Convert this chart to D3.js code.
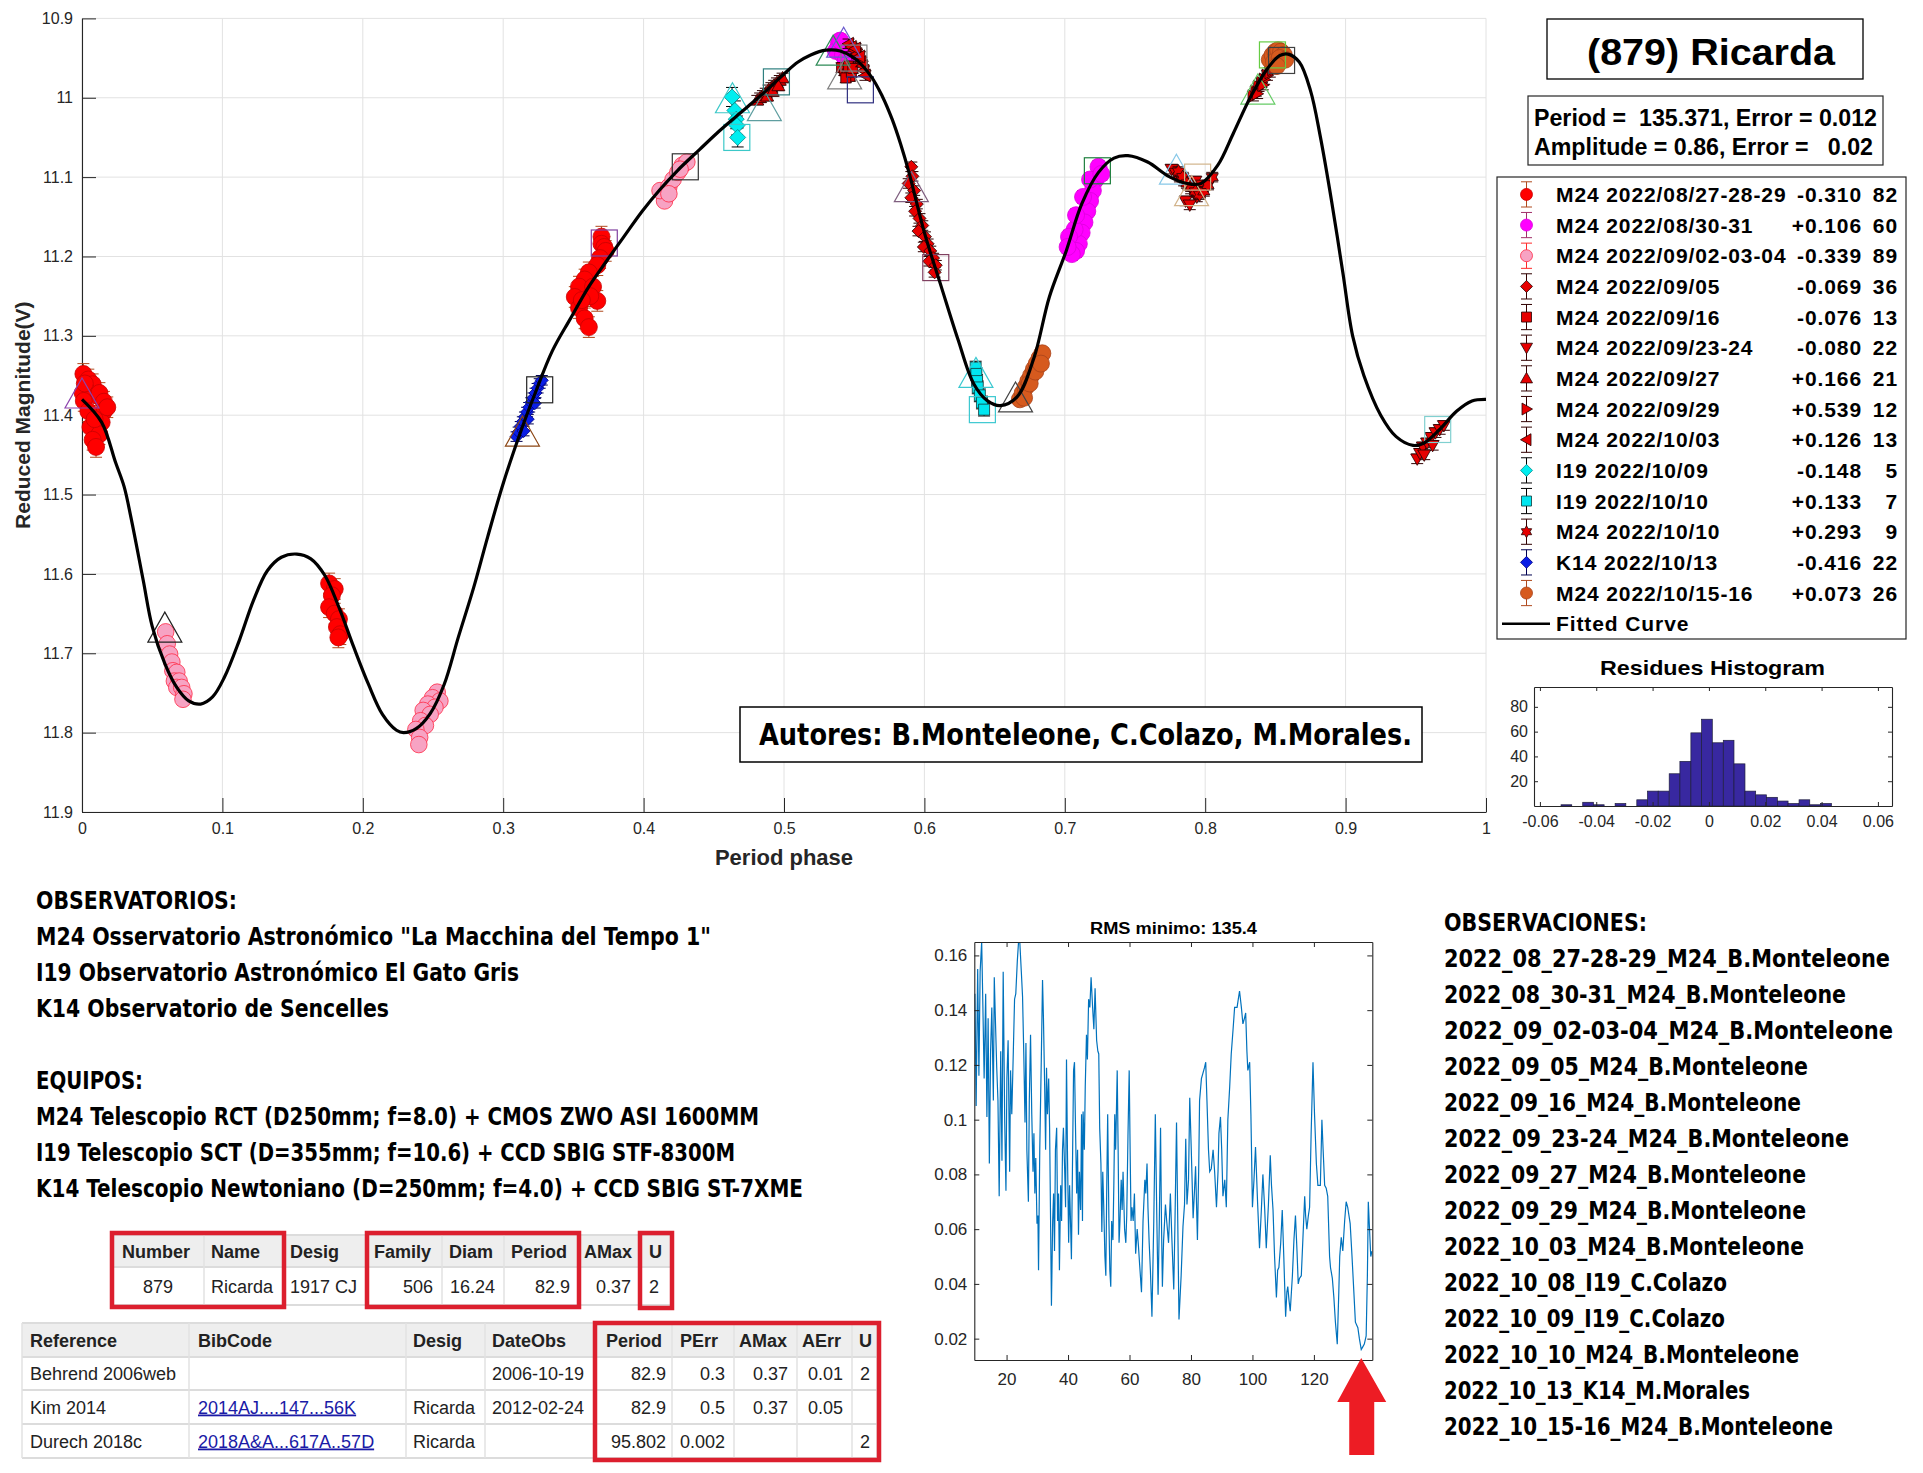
<!DOCTYPE html>
<html><head><meta charset="utf-8"><title>(879) Ricarda</title>
<script src="https://cdn.jsdelivr.net/npm/d3@7/dist/d3.min.js"></script>
<style>html,body{margin:0;padding:0;background:#fff;}svg{display:block;}text{white-space:pre;}</style>
</head><body>
<svg id="chart" width="1923" height="1473" xmlns="http://www.w3.org/2000/svg"></svg>
<script>
// ================= DATA =================
const xTicks=[0,0.1,0.2,0.3,0.4,0.5,0.6,0.7,0.8,0.9,1];
const xTickLabels=["0","0.1","0.2","0.3","0.4","0.5","0.6","0.7","0.8","0.9","1"];
const yTicks=[10.9,11,11.1,11.2,11.3,11.4,11.5,11.6,11.7,11.8,11.9];
const yTickLabels=["10.9","11","11.1","11.2","11.3","11.4","11.5","11.6","11.7","11.8","11.9"];

// fitted curve [phase, reduced magnitude]
const fittedCurve=[[0,11.38],[0.014,11.409],[0.024,11.46],[0.03,11.49],[0.035,11.53],[0.0436,11.608],[0.05,11.666],[0.059,11.713],[0.0675,11.743],[0.076,11.76],[0.0845,11.764],[0.093,11.755],[0.1015,11.73],[0.112,11.684],[0.122,11.634],[0.132,11.596],[0.142,11.579],[0.153,11.575],[0.163,11.581],[0.173,11.602],[0.183,11.642],[0.1935,11.692],[0.204,11.739],[0.214,11.777],[0.224,11.797],[0.229,11.8],[0.238,11.795],[0.248,11.776],[0.258,11.739],[0.268,11.68],[0.279,11.617],[0.289,11.553],[0.3,11.486],[0.313,11.418],[0.3226,11.373],[0.335,11.319],[0.348,11.278],[0.361,11.238],[0.3735,11.206],[0.386,11.175],[0.399,11.143],[0.412,11.115],[0.424,11.092],[0.44,11.065],[0.452,11.045],[0.465,11.025],[0.477,11.007],[0.488,10.99],[0.5,10.97],[0.51,10.955],[0.519,10.946],[0.53,10.94],[0.54,10.941],[0.55,10.95],[0.562,10.973],[0.57,10.998],[0.577,11.027],[0.583,11.058],[0.589,11.094],[0.6,11.17],[0.612,11.238],[0.624,11.305],[0.635,11.36],[0.645,11.382],[0.654,11.388],[0.666,11.377],[0.678,11.328],[0.689,11.251],[0.701,11.193],[0.712,11.134],[0.724,11.094],[0.735,11.076],[0.745,11.073],[0.759,11.081],[0.774,11.099],[0.787,11.108],[0.797,11.108],[0.809,11.085],[0.82,11.045],[0.832,11.0],[0.844,10.964],[0.853,10.947],[0.859,10.945],[0.867,10.955],[0.875,10.991],[0.882,11.049],[0.89,11.13],[0.898,11.22],[0.905,11.3],[0.913,11.35],[0.925,11.4],[0.936,11.427],[0.948,11.438],[0.956,11.435],[0.967,11.418],[0.979,11.395],[0.99,11.382],[1,11.38]];

// observation series [phase, magnitude]
const s01=[[0.001,11.348],[0.0045,11.355],[0.0076,11.361],[0.003,11.368],[0.010,11.375],[0.0124,11.372],[0.0005,11.372],[0.0013,11.382],[0.0156,11.383],[0.0156,11.395],[0.0045,11.395],[0.014,11.409],[0.006,11.415],[0.0124,11.424],[0.0076,11.431],[0.010,11.44],[0.018,11.39],[0.002,11.36],[0.009,11.405],[0.176,11.612],[0.18,11.619],[0.178,11.627],[0.176,11.642],[0.18,11.65],[0.183,11.657],[0.1816,11.667],[0.184,11.676],[0.1826,11.68],[0.370,11.175],[0.370,11.184],[0.372,11.188],[0.373,11.193],[0.369,11.202],[0.367,11.211],[0.361,11.22],[0.358,11.229],[0.354,11.238],[0.364,11.238],[0.351,11.251],[0.367,11.256],[0.354,11.265],[0.358,11.278],[0.361,11.289],[0.362,11.25],[0.356,11.255]];
const s02=[[0.539,10.932],[0.537,10.941],[0.542,10.946],[0.540,10.928],[0.544,10.953],[0.724,11.087],[0.722,11.103],[0.720,11.117],[0.718,11.13],[0.716,11.143],[0.714,11.157],[0.712,11.17],[0.710,11.184],[0.708,11.193],[0.705,11.197],[0.707,11.166],[0.703,11.175],[0.718,11.103],[0.708,11.148],[0.726,11.096],[0.713,11.125],[0.702,11.188]];
const s03=[[0.0596,11.673],[0.0607,11.688],[0.0624,11.701],[0.064,11.711],[0.0647,11.722],[0.0675,11.724],[0.0658,11.735],[0.0692,11.735],[0.0675,11.743],[0.071,11.743],[0.0726,11.751],[0.0719,11.758],[0.253,11.749],[0.2497,11.756],[0.2549,11.76],[0.2463,11.764],[0.2514,11.768],[0.243,11.772],[0.248,11.777],[0.2412,11.785],[0.2446,11.791],[0.2378,11.796],[0.2405,11.806],[0.2399,11.815],[0.4149,11.13],[0.4117,11.117],[0.418,11.112],[0.421,11.103],[0.4244,11.094],[0.4276,11.085],[0.4308,11.081],[0.418,11.121],[0.426,11.09]];
const s04=[[0.5907,11.087],[0.5915,11.099],[0.5888,11.108],[0.5927,11.117],[0.5907,11.126],[0.5946,11.134],[0.5934,11.143],[0.5965,11.152],[0.5985,11.161],[0.5958,11.168],[0.6004,11.175],[0.6023,11.184],[0.5996,11.188],[0.6042,11.193],[0.6062,11.202],[0.6035,11.206],[0.6081,11.211],[0.6073,11.22]];
const s05=[[0.541,10.962],[0.543,10.966],[0.545,10.97],[0.547,10.973],[0.544,10.975],[0.548,10.968],[0.546,10.96],[0.549,10.963]];
const s06=[[0.776,11.09],[0.779,11.095],[0.782,11.1],[0.785,11.105],[0.788,11.11],[0.79,11.115],[0.792,11.12],[0.794,11.125],[0.786,11.13],[0.789,11.135],[0.793,11.105],[0.796,11.11],[0.951,11.455],[0.953,11.448],[0.955,11.44],[0.958,11.435],[0.961,11.428],[0.964,11.422],[0.967,11.418],[0.97,11.413],[0.956,11.45],[0.962,11.438]];
const s07=[[0.481,11.003],[0.483,11.0],[0.485,10.997],[0.487,10.994],[0.489,10.99],[0.491,10.987],[0.493,10.984],[0.495,10.981],[0.497,10.978],[0.499,10.975],[0.488,10.998],[0.492,10.992],[0.496,10.985]];
const s08=[[0.834,10.998],[0.836,10.992],[0.838,10.986],[0.84,10.981],[0.842,10.977],[0.844,10.972],[0.846,10.968],[0.848,10.964],[0.837,10.995],[0.841,10.984]];
const s09=[[0.546,10.932],[0.548,10.936],[0.55,10.94],[0.552,10.945],[0.553,10.95],[0.555,10.955],[0.556,10.96],[0.557,10.966],[0.558,10.972],[0.551,10.938],[0.554,10.948]];
const s10=[[0.463,10.999],[0.465,11.016],[0.466,11.027],[0.4665,11.035],[0.467,11.05]];
const s11=[[0.6365,11.34],[0.637,11.348],[0.6375,11.357],[0.638,11.365],[0.6395,11.375],[0.641,11.384],[0.6425,11.393]];
const s12=[[0.781,11.093],[0.784,11.1],[0.787,11.108],[0.79,11.112],[0.793,11.118],[0.796,11.122],[0.799,11.118],[0.802,11.11],[0.805,11.1]];
const s13=[[0.3095,11.427],[0.311,11.421],[0.3125,11.414],[0.314,11.408],[0.3155,11.402],[0.317,11.396],[0.3185,11.39],[0.32,11.384],[0.3215,11.378],[0.323,11.372],[0.3245,11.366],[0.326,11.36],[0.3275,11.356],[0.3145,11.42],[0.3175,11.405],[0.3225,11.385]];
const s14=[[0.668,11.38],[0.67,11.372],[0.672,11.365],[0.674,11.357],[0.676,11.35],[0.678,11.342],[0.68,11.335],[0.682,11.328],[0.684,11.322],[0.671,11.378],[0.675,11.36],[0.679,11.345],[0.683,11.335],[0.846,10.952],[0.848,10.946],[0.85,10.942],[0.852,10.94],[0.854,10.942],[0.856,10.946],[0.849,10.955],[0.853,10.95],[0.857,10.952],[0.851,10.96]];
const seriesPoints=[s01,s02,s03,s04,s05,s06,s07,s08,s09,s10,s11,s12,s13,s14];
const seriesErr=[0.013,0.008,0.006,0.006,0.006,0.006,0.006,0.006,0.006,0.012,0.008,0.006,0.006,0.006];
const seriesNames=["M24 2022/08/27-28-29","M24 2022/08/30-31","M24 2022/09/02-03-04","M24 2022/09/05","M24 2022/09/16","M24 2022/09/23-24","M24 2022/09/27","M24 2022/09/29","M24 2022/10/03","I19 2022/10/09","I19 2022/10/10","M24 2022/10/10","K14 2022/10/13","M24 2022/10/15-16"];
const seriesOffsets=["-0.310","+0.106","-0.339","-0.069","-0.076","-0.080","+0.166","+0.539","+0.126","-0.148","+0.133","+0.293","-0.416","+0.073"];
const seriesCounts=[82,60,89,36,13,22,21,12,13,5,7,9,22,26];

// session start (triangles) and end (squares) markers [phase, magnitude]
const sessionStarts=[[0.0,11.372],[0.059,11.667],[0.3137,11.42],[0.4633,11.0],[0.486,11.01],[0.535,10.94],[0.5425,10.93],[0.5432,10.97],[0.5907,11.112],[0.6367,11.346],[0.6649,11.377],[0.7795,11.09],[0.7903,11.117],[0.8375,10.989]];
const sessionEnds=[[0.326,11.368],[0.372,11.183],[0.4297,11.087],[0.4664,11.05],[0.4946,10.98],[0.5498,10.95],[0.5544,10.99],[0.6081,11.214],[0.6413,11.393],[0.7232,11.092],[0.7946,11.10],[0.8479,10.946],[0.8544,10.953],[0.9656,11.418]];

// residues histogram
const histEdges=[-0.0525,-0.0487,-0.0448,-0.041,-0.0372,-0.0333,-0.0295,-0.0256,-0.0218,-0.018,-0.0141,-0.0103,-0.0064,-0.0026,0.0012,0.0051,0.0089,0.0128,0.0166,0.0204,0.0243,0.0281,0.032,0.0358,0.0396,0.0435];
const histCounts=[1,0,3,1,0,2,0,5,12,12,26,36,59,70,51,53,34,12,9,7,4,2,5,1,2];
const histXTicks=[-0.06,-0.04,-0.02,0,0.02,0.04,0.06];
const histXLabels=["-0.06","-0.04","-0.02","0","0.02","0.04","0.06"];
const histYTicks=[20,40,60,80];

// RMS periodogram
const rmsPeriod=[9.7,10.1,10.6,11.0,11.4,11.9,12.3,12.7,13.2,13.6,14.0,14.4,14.8,15.2,15.7,16.0,16.4,16.8,17.2,17.6,18.1,18.5,18.9,19.4,19.8,20.1,20.5,21.0,21.3,21.7,22.2,22.6,23.0,23.5,23.9,24.3,24.8,25.2,25.6,26.0,26.3,26.6,27.1,27.4,27.8,28.2,28.6,28.9,29.2,29.5,29.9,30.2,30.4,30.8,31.3,31.7,32.0,32.4,32.7,33.0,33.3,33.7,34.0,34.3,34.6,35.0,35.3,35.6,35.9,36.3,36.6,36.9,37.2,37.6,37.9,38.2,38.5,38.9,39.2,39.5,39.8,40.2,40.5,40.8,41.1,41.5,41.8,42.1,42.4,42.8,43.1,43.4,43.7,44.1,44.4,44.7,44.9,45.3,45.6,46.0,46.3,46.7,47.1,47.5,48.0,48.4,48.8,49.3,49.7,50.0,50.3,50.7,51.0,51.3,51.6,52.0,52.3,52.6,52.9,53.3,53.6,53.9,54.2,54.6,54.9,55.2,55.5,56.0,56.3,56.6,56.9,57.3,57.6,57.9,58.4,58.8,59.1,59.5,59.9,60.2,60.5,60.8,61.2,61.6,62.0,62.5,62.9,63.3,63.9,64.4,65.0,65.3,65.7,66.0,66.4,66.8,67.3,67.9,68.4,68.9,69.3,69.7,70.1,70.4,70.7,71.1,71.7,72.1,72.7,73.3,73.8,74.4,74.8,75.3,75.7,76.1,76.8,77.4,77.9,78.3,78.7,79.2,79.6,80.1,80.7,81.1,81.5,82.1,82.5,82.8,83.4,83.9,84.4,84.8,85.2,85.7,86.1,86.6,87.2,87.7,88.3,88.8,89.1,89.6,90.0,90.4,91.0,91.5,92.0,92.6,93.1,93.7,94.2,95.0,95.4,95.8,96.4,96.9,97.4,97.8,98.2,98.5,99.1,99.5,100.0,100.5,101.0,101.7,102.3,102.9,103.4,104.0,104.5,105.2,105.8,106.2,106.7,107.2,107.8,108.2,108.6,109.2,109.7,110.2,110.8,111.2,111.5,111.9,112.3,113.0,113.5,114.0,114.5,114.9,115.3,115.9,116.4,117.0,117.3,117.7,118.2,118.6,119.1,119.7,120.2,120.8,121.3,122.1,122.6,123.0,123.5,124.0,124.5,125.1,125.4,126.0,126.5,127.0,127.6,128.1,128.4,128.9,129.4,130.0,130.5,131.0,131.8,132.4,133.0,133.5,134.3,134.8,135.4,135.9,136.4,137.0,137.4,137.7,138.1,138.5,138.9];
const rmsValue=[0.146,0.105,0.155,0.116,0.154,0.165,0.141,0.115,0.146,0.101,0.137,0.084,0.125,0.141,0.107,0.152,0.135,0.119,0.107,0.072,0.125,0.085,0.154,0.099,0.074,0.115,0.129,0.081,0.118,0.102,0.125,0.144,0.146,0.158,0.165,0.165,0.154,0.145,0.124,0.099,0.128,0.089,0.070,0.107,0.131,0.102,0.081,0.095,0.073,0.086,0.062,0.065,0.045,0.089,0.122,0.151,0.137,0.112,0.089,0.119,0.102,0.115,0.097,0.065,0.032,0.063,0.073,0.052,0.089,0.097,0.063,0.073,0.045,0.076,0.063,0.089,0.097,0.082,0.068,0.122,0.089,0.055,0.076,0.063,0.049,0.089,0.118,0.121,0.099,0.073,0.089,0.058,0.081,0.067,0.102,0.063,0.103,0.089,0.112,0.131,0.122,0.144,0.141,0.152,0.141,0.133,0.148,0.129,0.125,0.124,0.097,0.084,0.059,0.081,0.069,0.050,0.043,0.076,0.102,0.063,0.045,0.039,0.063,0.056,0.076,0.102,0.089,0.118,0.089,0.055,0.063,0.078,0.067,0.081,0.060,0.055,0.065,0.094,0.118,0.089,0.063,0.068,0.063,0.073,0.051,0.060,0.054,0.047,0.037,0.063,0.078,0.073,0.084,0.068,0.055,0.045,0.028,0.063,0.102,0.063,0.036,0.063,0.097,0.063,0.039,0.056,0.069,0.063,0.055,0.073,0.056,0.038,0.063,0.099,0.063,0.027,0.043,0.061,0.069,0.093,0.069,0.078,0.108,0.089,0.064,0.073,0.083,0.056,0.081,0.107,0.115,0.117,0.119,0.121,0.107,0.089,0.081,0.082,0.089,0.081,0.068,0.081,0.095,0.101,0.089,0.072,0.078,0.068,0.100,0.112,0.124,0.133,0.141,0.141,0.144,0.147,0.141,0.135,0.137,0.139,0.125,0.118,0.121,0.102,0.068,0.078,0.090,0.069,0.053,0.067,0.080,0.067,0.053,0.069,0.087,0.076,0.067,0.050,0.035,0.045,0.046,0.055,0.067,0.050,0.028,0.037,0.039,0.034,0.030,0.043,0.056,0.065,0.052,0.040,0.042,0.043,0.056,0.072,0.065,0.060,0.065,0.068,0.095,0.121,0.102,0.084,0.076,0.076,0.100,0.089,0.076,0.075,0.072,0.050,0.046,0.042,0.035,0.026,0.018,0.037,0.050,0.057,0.052,0.063,0.070,0.068,0.062,0.050,0.037,0.026,0.024,0.020,0.016,0.017,0.018,0.021,0.043,0.070,0.060,0.050,0.052];
const rmsXTicks=[20,40,60,80,100,120];
const rmsYTicks=[0.02,0.04,0.06,0.08,0.1,0.12,0.14,0.16];
const rmsYLabels=["0.02","0.04","0.06","0.08","0.1","0.12","0.14","0.16"];
const rmsBestPeriod=135.4;

// texts
const titleText="(879) Ricarda";
const periodLines=["Period =  135.371, Error = 0.012","Amplitude = 0.86, Error =   0.02"];
const authorsText="Autores: B.Monteleone, C.Colazo, M.Morales.";
const observatoriosLines=["OBSERVATORIOS:","M24 Osservatorio Astronómico \"La Macchina del Tempo 1\"","I19 Observatorio Astronómico El Gato Gris","K14 Observatorio de Sencelles"];
const equiposLines=["EQUIPOS:","M24 Telescopio RCT (D250mm; f=8.0) + CMOS ZWO ASI 1600MM","I19 Telescopio SCT (D=355mm; f=10.6) + CCD SBIG STF-8300M","K14 Telescopio Newtoniano (D=250mm; f=4.0) + CCD SBIG ST-7XME"];
const observacionesLines=["OBSERVACIONES:","2022_08_27-28-29_M24_B.Monteleone","2022_08_30-31_M24_B.Monteleone","2022_09_02-03-04_M24_B.Monteleone","2022_09_05_M24_B.Monteleone","2022_09_16_M24_B.Monteleone","2022_09_23-24_M24_B.Monteleone","2022_09_27_M24_B.Monteleone","2022_09_29_M24_B.Monteleone","2022_10_03_M24_B.Monteleone","2022_10_08_I19_C.Colazo","2022_10_09_I19_C.Colazo","2022_10_10_M24_B.Monteleone","2022_10_13_K14_M.Morales","2022_10_15-16_M24_B.Monteleone"];

// tables
const tbl1Header=["Number","Name","Desig","Family","Diam","Period","AMax","U"];
const tbl1Row=["879","Ricarda","1917 CJ","506","16.24","82.9","0.37","2"];
const tbl2Header=["Reference","BibCode","Desig","DateObs","Period","PErr","AMax","AErr","U"];
const tbl2Rows=[["Behrend 2006web","","","2006-10-19","82.9","0.3","0.37","0.01","2"],["Kim 2014","2014AJ....147...56K","Ricarda","2012-02-24","82.9","0.5","0.37","0.05",""],["Durech 2018c","2018A&A...617A..57D","Ricarda","","95.802","0.002","","","2"]];

// ================= STYLE / LAYOUT =================
const F="'Liberation Sans', Arial, Helvetica, sans-serif";
const FN="'Liberation Sans Narrow', 'Arial Narrow', 'DejaVu Sans Condensed', sans-serif";
const FC="'DejaVu Sans Condensed', 'Liberation Sans Narrow', sans-serif";
const TC="#262626";
const seriesShape=['o','o','o','d','s','v','^','>','<','d','s','h','d','o'];
const seriesFill=['#ff0000','#ff00ff','#f7a3c3','#e60000','#e60000','#e60000','#e60000','#e60000','#e60000','#00eef0','#00e6f0','#e60000','#0a1ee6','#d65a1e'];
const seriesStroke=['#c80000','#dc00dc','#ff2a45','#220000','#220000','#220000','#220000','#220000','#220000','#008a8a','#103838','#220000','#000080','#a8431a'];
const seriesErrColor=['#b04a1e','#a0306a','#ff2a2a','#300000','#300000','#300000','#300000','#300000','#300000','#000000','#000000','#300000','#000050','#b04a1e'];
const seriesSize=[8.5,8.5,8.3,6.5,5,6.5,6.5,6.5,6.5,8,5.5,7,6.5,8.5];
const startColors=['#8e44ad','#222222','#8b4513','#3cc8c8','#5f9ea0','#2e8b57','#6a5acd','#808080','#806080','#3cc8d0','#444444','#87c8e8','#d2b48c','#66cc66'];
const endColors=['#222222','#8040a0','#333333','#3cc8c8','#2f7f7f','#808080','#303080','#804060','#3cc8d0','#208040','#d2b48c','#66cc44','#404040','#80d0d0'];

const svg=d3.select('#chart');
svg.append('rect').attr('width',1923).attr('height',1473).attr('fill','#fff');

function markerPath(shape,r){
  const p=d3.path();
  switch(shape){
    case 'o': p.moveTo(r,0); p.arc(0,0,r,0,2*Math.PI); break;
    case 'd': p.moveTo(0,-r);p.lineTo(r,0);p.lineTo(0,r);p.lineTo(-r,0);p.closePath();break;
    case 's': p.rect(-r,-r,2*r,2*r);break;
    case '^': p.moveTo(0,-r);p.lineTo(r,r*0.75);p.lineTo(-r,r*0.75);p.closePath();break;
    case 'v': p.moveTo(0,r);p.lineTo(r,-r*0.75);p.lineTo(-r,-r*0.75);p.closePath();break;
    case '>': p.moveTo(r,0);p.lineTo(-r*0.75,r);p.lineTo(-r*0.75,-r);p.closePath();break;
    case '<': p.moveTo(-r,0);p.lineTo(r*0.75,r);p.lineTo(r*0.75,-r);p.closePath();break;
    case 'h': for(let k=0;k<12;k++){const a=-Math.PI/2+k*Math.PI/6;const rr=(k%2)?r*0.58:r; if(k===0)p.moveTo(rr*Math.cos(a),rr*Math.sin(a)); else p.lineTo(rr*Math.cos(a),rr*Math.sin(a));} p.closePath(); break;
  }
  return p.toString();
}
function styleAxis(g,fs){
  g.attr('font-family',F).attr('font-size',fs);
  g.selectAll('text').attr('fill',TC);
  g.selectAll('line').attr('stroke',TC);
  g.select('.domain').attr('stroke',TC).attr('stroke-width',1.1);
}

// ================= MAIN PLOT =================
const xM=d3.scaleLinear([0,1],[82,1486]);
const yM=d3.scaleLinear([10.9,11.9],[18.4,812]);
const gMain=svg.append('g');
gMain.append('g').selectAll('line').data(xTicks).join('line')
  .attr('x1',d=>xM(d)).attr('x2',d=>xM(d)).attr('y1',yM(10.9)).attr('y2',yM(11.9)).attr('stroke','#e2e2e2').attr('stroke-width',1);
gMain.append('g').selectAll('line').data(yTicks).join('line')
  .attr('x1',xM(0)).attr('x2',xM(1)).attr('y1',d=>yM(d)).attr('y2',d=>yM(d)).attr('stroke','#e2e2e2').attr('stroke-width',1);

const axL=gMain.append('g').attr('transform',`translate(${xM(0)},0)`)
  .call(d3.axisLeft(yM).tickValues(yTicks).tickFormat((d,i)=>yTickLabels[i]).tickSizeInner(-14).tickSizeOuter(0).tickPadding(9));
styleAxis(axL,16);
const axB=gMain.append('g').attr('transform',`translate(0,${yM(11.9)})`)
  .call(d3.axisBottom(xM).tickValues(xTicks).tickFormat((d,i)=>xTickLabels[i]).tickSizeInner(-14).tickSizeOuter(0).tickPadding(11));
styleAxis(axB,16);

svg.append('text').attr('transform',`translate(23,${(yM(10.9)+yM(11.9))/2}) rotate(-90)`).attr('text-anchor','middle')
  .attr('dy','0.35em').attr('font-family',F).attr('font-weight','bold').attr('font-size',21).attr('fill',TC).text('Reduced Magnitude(V)');
svg.append('text').attr('x',(xM(0)+xM(1))/2).attr('y',865).attr('text-anchor','middle')
  .attr('font-family',F).attr('font-weight','bold').attr('font-size',22).attr('fill',TC).text('Period phase');

// authors box
svg.append('rect').attr('x',740).attr('y',707).attr('width',682).attr('height',55).attr('fill','#fff').attr('stroke','#000').attr('stroke-width',1.5);
svg.append('text').attr('x',759).attr('y',745).attr('font-family',FN).attr('font-weight','bold').attr('font-size',31).attr('fill','#000')
  .attr('textLength',653).attr('lengthAdjust','spacingAndGlyphs').text(authorsText);

// data series
const gData=gMain.append('g');
seriesPoints.forEach((pts,i)=>{
  const g=gData.append('g');
  const e=seriesErr[i], ec=seriesErrColor[i];
  g.selectAll('line.v').data(pts).join('line').attr('x1',d=>xM(d[0])).attr('x2',d=>xM(d[0]))
    .attr('y1',d=>yM(d[1]-e)).attr('y2',d=>yM(d[1]+e)).attr('stroke',ec).attr('stroke-width',1);
  [-1,1].forEach(sg=>{
    g.selectAll('line.c'+sg).data(pts).join('line').attr('x1',d=>xM(d[0])-6).attr('x2',d=>xM(d[0])+6)
      .attr('y1',d=>yM(d[1]+sg*e)).attr('y2',d=>yM(d[1]+sg*e)).attr('stroke',ec).attr('stroke-width',1);
  });
  g.selectAll('path').data(pts).join('path').attr('d',markerPath(seriesShape[i],seriesSize[i]))
    .attr('transform',d=>`translate(${xM(d[0])},${yM(d[1])})`)
    .attr('fill',seriesFill[i]).attr('stroke',seriesStroke[i]).attr('stroke-width',0.8);
});
// session markers
const triPath='M0,-15L17,15L-17,15Z';
gData.append('g').selectAll('path').data(sessionStarts).join('path').attr('d',triPath)
  .attr('transform',d=>`translate(${xM(d[0])},${yM(d[1])})`).attr('fill','none')
  .attr('stroke',(d,i)=>startColors[i]).attr('stroke-width',1.2);
gData.append('g').selectAll('rect').data(sessionEnds).join('rect')
  .attr('x',d=>xM(d[0])-13).attr('y',d=>yM(d[1])-13).attr('width',26).attr('height',26).attr('fill','none')
  .attr('stroke',(d,i)=>endColors[i]).attr('stroke-width',1.2);
// fitted curve
gMain.append('path').datum(fittedCurve)
  .attr('d',d3.line().x(d=>xM(d[0])).y(d=>yM(d[1])).curve(d3.curveCatmullRom.alpha(0.5)))
  .attr('fill','none').attr('stroke','#000').attr('stroke-width',3.2).attr('stroke-linejoin','round');

// ================= TITLE / PERIOD / LEGEND =================
svg.append('rect').attr('x',1547).attr('y',19).attr('width',316).attr('height',60).attr('fill','#fff').attr('stroke','#000').attr('stroke-width',1.3);
svg.append('text').attr('x',1587).attr('y',65).attr('font-family',F).attr('font-weight','bold').attr('font-size',36).attr('fill','#000')
  .attr('textLength',248).attr('lengthAdjust','spacingAndGlyphs').text(titleText);
svg.append('rect').attr('x',1528).attr('y',96).attr('width',355).attr('height',69).attr('fill','#fff').attr('stroke','#262626').attr('stroke-width',1.2);
[[125.5,343],[155,339]].forEach((p,i)=>{
  svg.append('text').attr('x',1534).attr('y',p[0]).attr('font-family',F).attr('font-weight','bold').attr('font-size',23).attr('fill','#000')
    .attr('textLength',p[1]).attr('lengthAdjust','spacingAndGlyphs').text(periodLines[i]);
});
svg.append('rect').attr('x',1497).attr('y',177).attr('width',409).attr('height',462).attr('fill','#fff').attr('stroke','#262626').attr('stroke-width',1.2);
const legY=d3.scaleLinear([0,14],[194.4,623.7]);
const gLeg=svg.append('g');
seriesNames.forEach((nm,i)=>{
  const y=legY(i), x=1526.5;
  gLeg.append('line').attr('x1',x).attr('x2',x).attr('y1',y-12.6).attr('y2',y+12.6).attr('stroke',seriesErrColor[i]).attr('stroke-width',1);
  [-12.6,12.6].forEach(o=>gLeg.append('line').attr('x1',x-5.5).attr('x2',x+5.5).attr('y1',y+o).attr('y2',y+o).attr('stroke',seriesErrColor[i]).attr('stroke-width',1));
  gLeg.append('path').attr('d',markerPath(seriesShape[i],seriesShape[i]==='s'?5:6)).attr('transform',`translate(${x},${y})`)
    .attr('fill',seriesFill[i]).attr('stroke',seriesStroke[i]).attr('stroke-width',0.8);
  gLeg.append('text').attr('x',1556).attr('y',y+7.5).attr('font-family',F).attr('font-weight','bold').attr('font-size',21).attr('letter-spacing',0.9).attr('fill','#000').text(nm);
  gLeg.append('text').attr('x',1862).attr('y',y+7.5).attr('text-anchor','end').attr('font-family',F).attr('font-weight','bold').attr('font-size',21).attr('letter-spacing',0.9).attr('fill','#000').text(seriesOffsets[i]);
  gLeg.append('text').attr('x',1898).attr('y',y+7.5).attr('text-anchor','end').attr('font-family',F).attr('font-weight','bold').attr('font-size',21).attr('letter-spacing',0.9).attr('fill','#000').text(String(seriesCounts[i]));
});
gLeg.append('line').attr('x1',1502).attr('x2',1550).attr('y1',legY(14)).attr('y2',legY(14)).attr('stroke','#000').attr('stroke-width',2.6);
gLeg.append('text').attr('x',1556).attr('y',legY(14)+7.5).attr('font-family',F).attr('font-weight','bold').attr('font-size',21).attr('letter-spacing',0.9).attr('fill','#000').text('Fitted Curve');

// ================= HISTOGRAM =================
const xH=d3.scaleLinear([-0.0621,0.065],[1534,1892]);
const yH=d3.scaleLinear([0,96],[806,687]);
const gH=svg.append('g');
gH.append('text').attr('x',1600).attr('y',675).attr('font-family',F).attr('font-weight','bold').attr('font-size',21).attr('fill','#000')
  .attr('textLength',225).attr('lengthAdjust','spacingAndGlyphs').text('Residues Histogram');
gH.selectAll('rect.bar').data(histCounts.map((c,i)=>({c,x0:histEdges[i],x1:histEdges[i+1]})).filter(d=>d.c>0)).join('rect')
  .attr('x',d=>xH(d.x0)).attr('width',d=>xH(d.x1)-xH(d.x0)).attr('y',d=>yH(d.c)).attr('height',d=>yH(0)-yH(d.c))
  .attr('fill','#3828a0').attr('stroke','#1e1e3c').attr('stroke-width',0.7);
const hb=gH.append('g').attr('transform',`translate(0,806)`).call(d3.axisBottom(xH).tickValues(histXTicks).tickFormat((d,i)=>histXLabels[i]).tickSizeInner(-4).tickSizeOuter(0).tickPadding(10));
styleAxis(hb,16);
const ht=gH.append('g').attr('transform',`translate(0,687)`).call(d3.axisTop(xH).tickValues(histXTicks).tickFormat('').tickSizeInner(-4).tickSizeOuter(0));
styleAxis(ht,16);
const hl=gH.append('g').attr('transform',`translate(1534,0)`).call(d3.axisLeft(yH).tickValues(histYTicks).tickSizeInner(-4).tickSizeOuter(0).tickPadding(6));
styleAxis(hl,16);
const hr=gH.append('g').attr('transform',`translate(1892,0)`).call(d3.axisRight(yH).tickValues(histYTicks).tickFormat('').tickSizeInner(-4).tickSizeOuter(0));
styleAxis(hr,16);

// ================= RMS PLOT =================
const xR=d3.scaleLinear([9.5,139],[974.3,1372.3]);
const yR=d3.scaleLinear([0.0122,0.1649],[1360,942]);
const gR=svg.append('g');
gR.append('defs').append('clipPath').attr('id','rclip').append('rect').attr('x',974.3).attr('y',942).attr('width',398).attr('height',418);
gR.append('text').attr('x',1090).attr('y',934).attr('font-family',F).attr('font-weight','bold').attr('font-size',16).attr('fill','#000')
  .attr('textLength',167).attr('lengthAdjust','spacingAndGlyphs').text('RMS minimo: 135.4');
gR.append('path').datum(rmsPeriod.map((p,i)=>[p,rmsValue[i]])).attr('clip-path','url(#rclip)')
  .attr('d',d3.line().x(d=>xR(d[0])).y(d=>yR(d[1]))).attr('fill','none').attr('stroke','#0072bd').attr('stroke-width',1.2);
const rb=gR.append('g').attr('transform','translate(0,1360)').call(d3.axisBottom(xR).tickValues(rmsXTicks).tickSizeInner(-5).tickSizeOuter(0).tickPadding(13));
styleAxis(rb,17);
const rt=gR.append('g').attr('transform','translate(0,942)').call(d3.axisTop(xR).tickValues(rmsXTicks).tickFormat('').tickSizeInner(-5).tickSizeOuter(0));
styleAxis(rt,17);
const rl=gR.append('g').attr('transform','translate(974.3,0)').call(d3.axisLeft(yR).tickValues(rmsYTicks).tickFormat((d,i)=>rmsYLabels[i]).tickSizeInner(-5).tickSizeOuter(0).tickPadding(7));
styleAxis(rl,17);
const rr=gR.append('g').attr('transform','translate(1372.3,0)').call(d3.axisRight(yR).tickValues(rmsYTicks).tickFormat('').tickSizeInner(-5).tickSizeOuter(0));
styleAxis(rr,17);
// red arrow pointing at best period
const ax=xR(rmsBestPeriod), ay=1358;
svg.append('path').attr('d',`M${ax},${ay}L${ax+25},${ay+44}L${ax+13},${ay+44}L${ax+13},${ay+97}L${ax-12},${ay+97}L${ax-12},${ay+44}L${ax-24},${ay+44}Z`)
  .attr('fill','#ed1c24');

// ================= TEXT BLOCKS =================
const obsW=[201,675,483,353], eqW=[107,723,699,767];
observatoriosLines.forEach((t,i)=>svg.append('text').attr('x',36).attr('y',909+i*36).attr('font-family',FN).attr('font-weight','bold').attr('font-size',25).attr('fill','#000')
  .attr('textLength',obsW[i]).attr('lengthAdjust','spacingAndGlyphs').text(t));
equiposLines.forEach((t,i)=>svg.append('text').attr('x',36).attr('y',1089+i*36).attr('font-family',FN).attr('font-weight','bold').attr('font-size',25).attr('fill','#000')
  .attr('textLength',eqW[i]).attr('lengthAdjust','spacingAndGlyphs').text(t));
const ocW=[203,446,402,449,364,357,405,362,362,360,283,281,355,306,389];
observacionesLines.forEach((t,i)=>svg.append('text').attr('x',1444).attr('y',931+i*36).attr('font-family',FC).attr('font-weight','bold').attr('font-size',25).attr('fill','#000')
  .attr('textLength',ocW[i]).attr('lengthAdjust','spacingAndGlyphs').text(t));

// ================= TABLES =================
function drawTable(edges,rowEdges,header,rows,hx,cx,canchor,linkCol){
  const g=svg.append('g').attr('font-family',F).attr('font-size',18);
  const top=rowEdges[0], bot=rowEdges[rowEdges.length-1];
  g.append('rect').attr('x',edges[0]).attr('y',top).attr('width',edges[edges.length-1]-edges[0]).attr('height',rowEdges[1]-top).attr('fill','#eeeeee');
  rowEdges.forEach(y=>g.append('line').attr('x1',edges[0]).attr('x2',edges[edges.length-1]).attr('y1',y).attr('y2',y).attr('stroke','#dcdcdc').attr('stroke-width',2));
  edges.forEach(x=>g.append('line').attr('x1',x).attr('x2',x).attr('y1',top).attr('y2',bot).attr('stroke','#e2e2e2').attr('stroke-width',1.5));
  header.forEach((h,j)=>g.append('text').attr('x',hx[j]).attr('y',(rowEdges[0]+rowEdges[1])/2+6.5).attr('font-weight','bold').attr('fill','#222').text(h));
  rows.forEach((r,ri)=>r.forEach((v,j)=>{
    if(!v) return;
    const t=g.append('text').attr('x',cx[j]).attr('y',(rowEdges[ri+1]+rowEdges[ri+2])/2+6.5).attr('text-anchor',canchor[j]).attr('fill','#222').text(v);
    if(j===linkCol){t.attr('fill','#1a1aa6').attr('text-decoration','underline');}
  }));
}
drawTable([112,204,284,367,442,504,579,640,672],[1235,1267,1305],tbl1Header,[tbl1Row],
  [122,211,290,374,449,511,584,649],[158,211,290,433,495,570,631,649],['middle','start','start','end','end','end','end','start'],-1);
drawTable([22,189,406,485,596,672,734,797,852,877],[1323,1357,1390,1424,1458],tbl2Header,tbl2Rows,
  [30,198,413,492,606,680,739,802,859],[30,198,413,492,666,725,788,843,870],['start','start','start','start','end','end','end','end','end'],1);
// red highlight boxes
const redBoxes=[[112,1233,172,74],[367,1233,212,74],[640,1233,32,75],[595,1323,284,137]];
svg.append('g').selectAll('rect').data(redBoxes).join('rect').attr('x',d=>d[0]).attr('y',d=>d[1]).attr('width',d=>d[2]).attr('height',d=>d[3])
  .attr('fill','none').attr('stroke','#dc1f2e').attr('stroke-width',4.5);
</script>
</body></html>
